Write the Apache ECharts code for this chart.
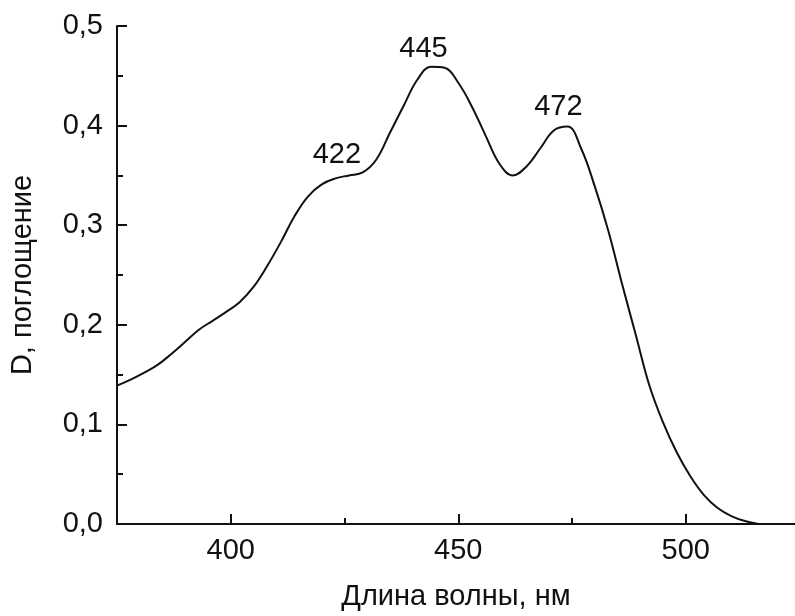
<!DOCTYPE html>
<html lang="ru">
<head>
<meta charset="UTF-8">
<title>Спектр поглощения</title>
<script src="https://cdn.jsdelivr.net/npm/echarts@6/dist/echarts.min.js"></script>
<style>
    * { margin: 0; padding: 0; }
    body { background: #fff; }
    #chart { width: 795px; height: 616px; }
</style>
</head>
<body>
<div id="chart"></div>
<script>
    // длина волны, нм
    var wavelength = [375, 378, 381, 384, 387, 390, 393, 396, 399, 402, 405, 408, 411, 414, 417,
        420, 423, 426, 429, 432, 435, 438, 441, 444, 447, 450, 453, 456, 459, 462, 465, 468,
        471, 474, 477, 480, 483, 486, 489, 492, 495, 498, 501, 504, 507, 510, 513, 516];
    // D, поглощение
    var absorbance = [0.139, 0.145, 0.152, 0.160, 0.171, 0.183, 0.195, 0.204, 0.213, 0.223, 0.238,
        0.259, 0.283, 0.309, 0.329, 0.341, 0.347, 0.350, 0.353, 0.366, 0.393, 0.420, 0.446, 0.459,
        0.458, 0.443, 0.419, 0.390, 0.362, 0.350, 0.359, 0.377, 0.395, 0.399, 0.377, 0.339, 0.294,
        0.241, 0.190, 0.139, 0.102, 0.072, 0.048, 0.029, 0.016, 0.008, 0.003, 0.000];
    // подписи максимумов
    var peakNm = [422, 445, 472];
    var peakD = [0.346, 0.460, 0.399];
    var peakOffset = [[6, -24], [-12, -17], [0, -20]];

    var majorX = [400, 450, 500];
    var minorX = [425, 475];

    var font = 'Liberation Sans, Arial, sans-serif';
    var ink = '#111';
    var fs = 29;

    var points = wavelength.map(function (w, i) { return [w, absorbance[i]]; });
    var marks = peakNm.map(function (w, i) {
        return {
            coord: [w, peakD[i]],
            label: { offset: peakOffset[i], formatter: String(w) }
        };
    });

    var chart = echarts.init(document.getElementById('chart'));
    chart.setOption({
        animation: false,
        grid: { left: 116, right: 0, top: 26, bottom: 91 },
        xAxis: [{
            type: 'value',
            min: 375,
            max: 524,
            name: 'Длина волны, нм',
            nameLocation: 'middle',
            nameGap: 58,
            nameTextStyle: { fontFamily: font, fontSize: fs, color: ink },
            axisLine: { lineStyle: { color: ink, width: 2 } },
            axisTick: { inside: true, length: 10, customValues: majorX, lineStyle: { color: ink, width: 2 } },
            axisLabel: { customValues: majorX, margin: 12, fontFamily: font, fontSize: fs, color: ink },
            splitLine: { show: false }
        }, {
            type: 'value',
            min: 375,
            max: 524,
            position: 'bottom',
            axisLine: { show: false },
            axisTick: { inside: true, length: 6, customValues: minorX, lineStyle: { color: ink, width: 2 } },
            axisLabel: { show: false },
            splitLine: { show: false }
        }],
        yAxis: {
            type: 'value',
            min: 0,
            max: 0.5,
            interval: 0.1,
            name: 'D, поглощение',
            nameLocation: 'middle',
            nameGap: 80,
            nameTextStyle: { fontFamily: font, fontSize: fs, color: ink },
            axisLine: { show: true, lineStyle: { color: ink, width: 2 } },
            axisTick: { show: true, inside: true, length: 10, lineStyle: { color: ink, width: 2 } },
            minorTick: { show: true, splitNumber: 2, length: 6, lineStyle: { color: ink, width: 2 } },
            axisLabel: {
                margin: 14, fontFamily: font, fontSize: fs, color: ink,
                formatter: function (v) { return v.toFixed(1).replace('.', ','); }
            },
            splitLine: { show: false }
        },
        series: [{
            type: 'line',
            xAxisIndex: 0,
            data: points,
            smooth: 0.4,
            showSymbol: false,
            lineStyle: { color: ink, width: 2 },
            markPoint: {
                symbol: 'circle',
                symbolSize: 0,
                label: { show: true, position: 'inside', fontFamily: font, fontSize: fs, color: ink },
                data: marks
            }
        }]
    });
</script>
</body>
</html>
